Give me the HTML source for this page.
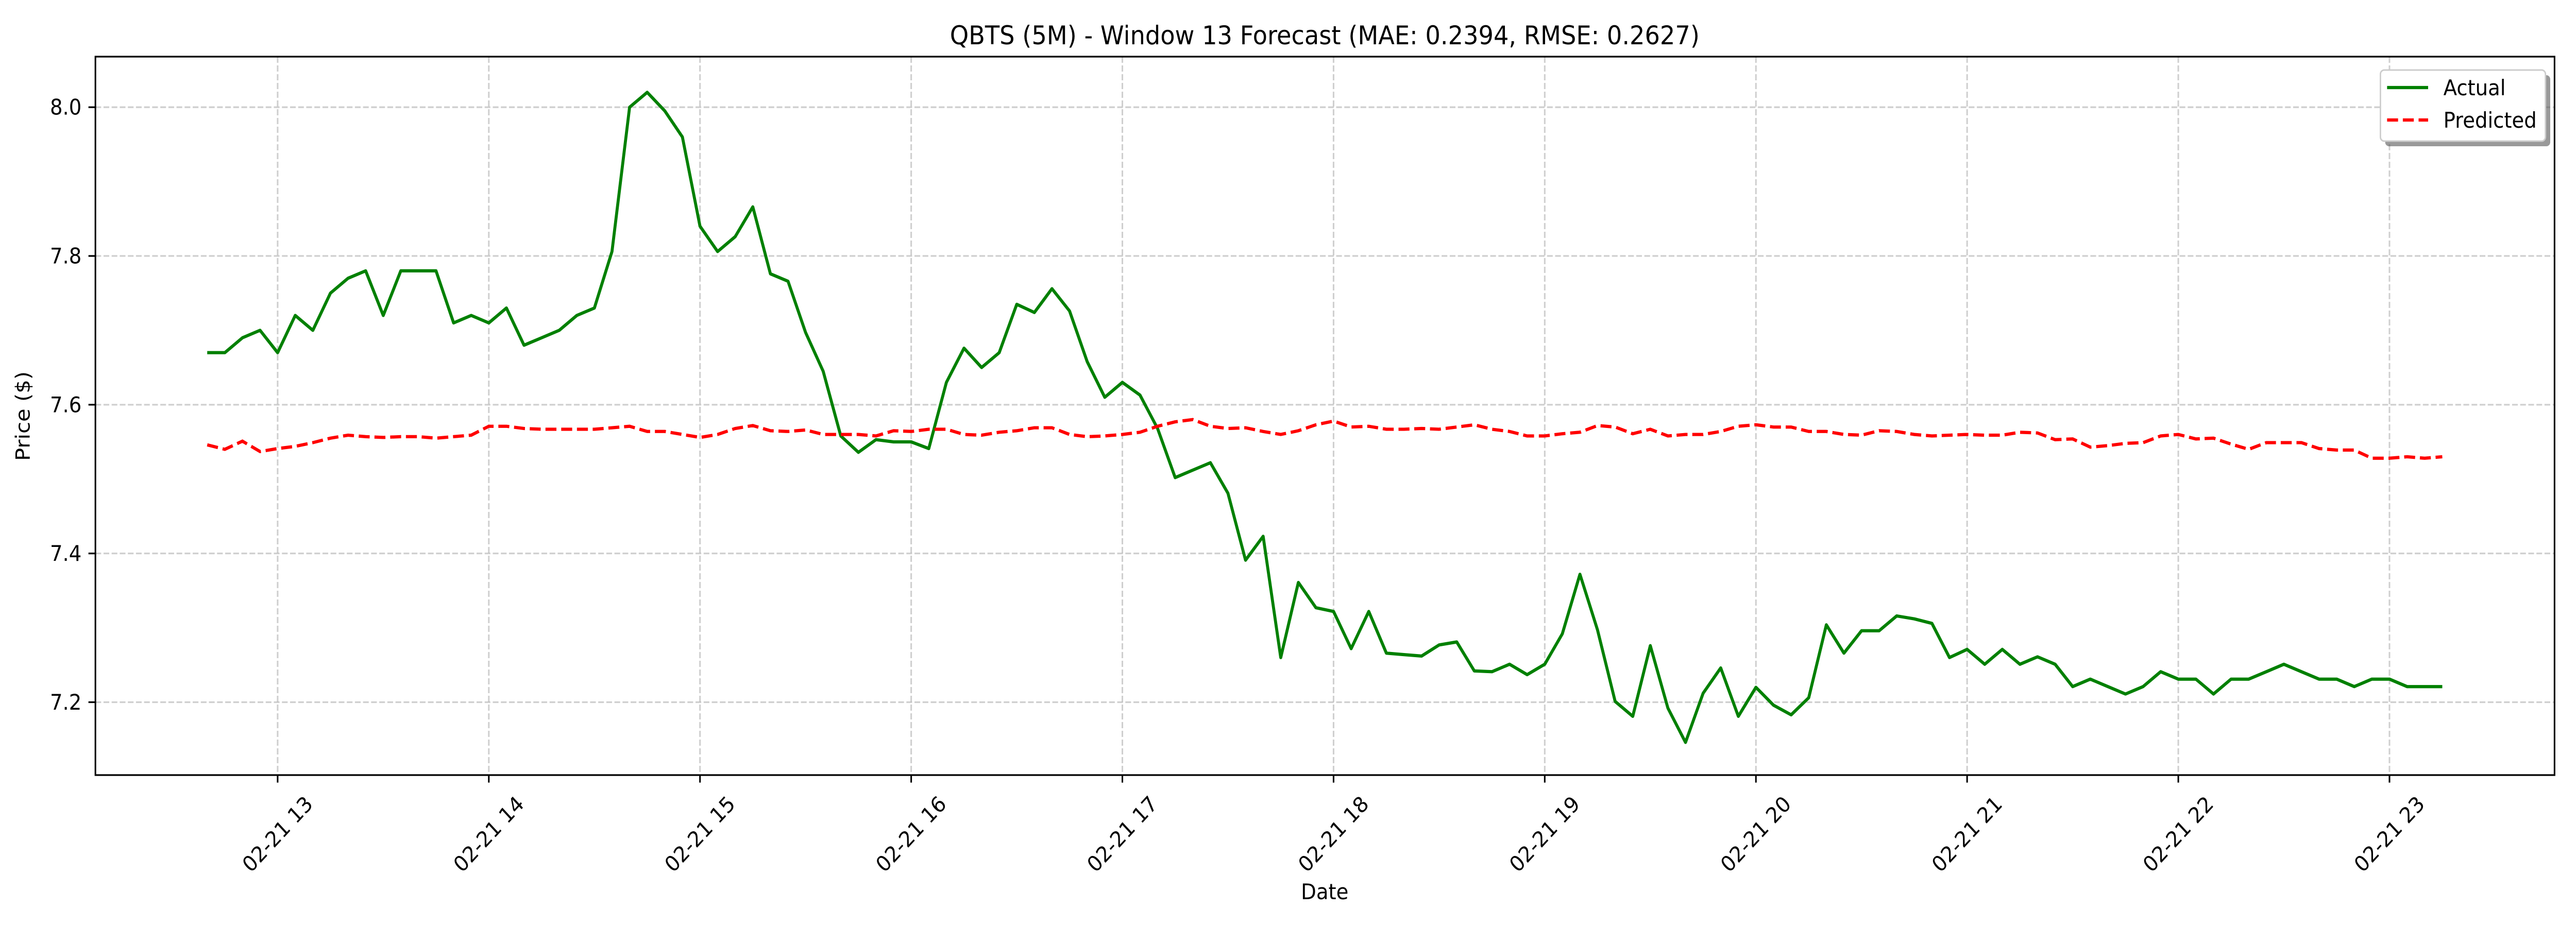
<!DOCTYPE html>
<html><head><meta charset="utf-8"><style>
html,body{margin:0;padding:0;background:#fff;overflow:hidden;width:100%;height:100%}
svg{display:block;width:100vw;height:100vh;font-family:"DejaVu Sans","Liberation Sans",sans-serif}
</style></head><body>
<svg id="chart" viewBox="0 0 5400 1800" preserveAspectRatio="none" xmlns="http://www.w3.org/2000/svg">
<rect x="0" y="0" width="5400" height="1800" fill="#fff"/>
<text x="2777" y="86" font-size="50" text-anchor="middle">QBTS (5M) - Window 13 Forecast (MAE: 0.2394, RMSE: 0.2627)</text>
<g id="grid"></g><g id="axes"></g><g id="series"></g>
<rect x="200" y="110" width="5155" height="1395" fill="none" stroke="#000" stroke-width="3.3"/>
<text x="0" y="0" font-size="41.7" text-anchor="middle" transform="translate(62,808) rotate(-90)">Price ($)</text>
<text x="2777" y="1746" font-size="41.7" text-anchor="middle">Date</text>
<g>
<rect x="5000" y="146" width="346" height="138" rx="8" fill="#555" opacity="0.6"/>
<rect x="4990" y="136" width="346" height="138" rx="8" fill="#fff" stroke="#ccc" stroke-width="3"/>
<line x1="5004" y1="170" x2="5090" y2="170" stroke="#008000" stroke-width="6.25"/>
<text x="5122" y="185" font-size="41.7">Actual</text>
<line x1="5004" y1="233" x2="5090" y2="233" stroke="#ff0000" stroke-width="6.25" stroke-dasharray="23,10"/>
<text x="5122" y="248" font-size="41.7">Predicted</text>
</g>
</svg>
<script>
const startMinutes = -20; // 12:40 relative to 13:00
const stepMinutes = 5;
const actualValues = [7.67,7.67,7.69,7.70,7.67,7.72,7.70,7.75,7.77,7.78,7.72,7.78,7.78,7.78,7.71,7.72,7.71,7.73,7.68,7.69,7.70,7.72,7.73,7.806,8.00,8.02,7.995,7.96,7.84,7.806,7.826,7.866,7.776,7.766,7.697,7.645,7.558,7.536,7.553,7.55,7.55,7.541,7.63,7.676,7.65,7.67,7.735,7.724,7.756,7.726,7.658,7.61,7.63,7.613,7.568,7.502,7.512,7.522,7.481,7.391,7.423,7.26,7.361,7.327,7.322,7.272,7.322,7.266,7.264,7.262,7.277,7.281,7.242,7.241,7.251,7.237,7.251,7.292,7.372,7.297,7.201,7.181,7.276,7.192,7.146,7.212,7.246,7.181,7.22,7.196,7.183,7.206,7.304,7.266,7.296,7.296,7.316,7.312,7.306,7.26,7.271,7.251,7.271,7.251,7.261,7.251,7.221,7.231,7.221,7.211,7.221,7.241,7.231,7.231,7.211,7.231,7.231,7.241,7.251,7.241,7.231,7.231,7.221,7.231,7.231,7.221,7.221,7.221];
const predictedValues = [7.546,7.54,7.551,7.537,7.541,7.544,7.549,7.555,7.559,7.557,7.556,7.557,7.557,7.555,7.557,7.559,7.571,7.571,7.568,7.567,7.567,7.567,7.567,7.569,7.571,7.564,7.564,7.56,7.556,7.56,7.568,7.572,7.565,7.564,7.566,7.56,7.56,7.56,7.558,7.565,7.564,7.567,7.567,7.56,7.559,7.563,7.565,7.569,7.569,7.56,7.557,7.558,7.56,7.563,7.571,7.577,7.58,7.571,7.568,7.569,7.564,7.56,7.565,7.573,7.578,7.57,7.571,7.567,7.567,7.568,7.567,7.57,7.573,7.567,7.564,7.558,7.558,7.561,7.563,7.572,7.57,7.561,7.567,7.558,7.56,7.56,7.564,7.571,7.573,7.57,7.57,7.564,7.564,7.56,7.559,7.565,7.564,7.56,7.558,7.559,7.56,7.559,7.559,7.563,7.562,7.553,7.554,7.543,7.545,7.548,7.549,7.558,7.56,7.554,7.555,7.547,7.54,7.549,7.549,7.549,7.541,7.539,7.539,7.528,7.528,7.53,7.528,7.53];
const yTicks = [7.2,7.4,7.6,7.8,8.0];
const yTickLabels = ["7.2","7.4","7.6","7.8","8.0"];
const xTickHours = [0,1,2,3,4,5,6,7,8,9,10];
const xTickLabels = ["02-21 13","02-21 14","02-21 15","02-21 16","02-21 17","02-21 18","02-21 19","02-21 20","02-21 21","02-21 22","02-21 23"];

const NS="http://www.w3.org/2000/svg";
const L=200,R=5355,T=110,B=1505;
const yMin=7.102,yMax=8.068;
const x0=582,pxPerHour=442.7;
function xScale(h){return x0+h*pxPerHour;}
function yScale(v){return B-(v-yMin)/(yMax-yMin)*(B-T);}
function mk(tag,attrs,parent){const e=document.createElementNS(NS,tag);for(const k in attrs)e.setAttribute(k,attrs[k]);parent.appendChild(e);return e;}
const grid=document.getElementById('grid'),axes=document.getElementById('axes'),series=document.getElementById('series');

yTicks.forEach((v,i)=>{
  const y=yScale(v);
  const g=mk('line',{x1:L,x2:R,y1:y,y2:y,stroke:'#b0b0b0','stroke-width':3.3,'stroke-dasharray':'12,5',opacity:0.6},grid);
  
  
  const t=mk('line',{x1:L-14.6,x2:L,y1:y,y2:y,stroke:'#000','stroke-width':3.3},axes);
  
  
  const tx=mk('text',{x:L-29,y:y+14.5,'font-size':41.7,'text-anchor':'end'},axes);
  tx.textContent=yTickLabels[i];
  
  
});
xTickHours.forEach((h,i)=>{
  const x=xScale(h);
  const g=mk('line',{x1:x,x2:x,y1:T,y2:B,stroke:'#b0b0b0','stroke-width':3.3,'stroke-dasharray':'12,5',opacity:0.6},grid);
  
  
  const t=mk('line',{x1:x,x2:x,y1:B,y2:B+14.6,stroke:'#000','stroke-width':3.3},axes);
  
  
  const tx=mk('text',{x:0,y:14,'font-size':41.7,'text-anchor':'middle',transform:`translate(${x},1620) rotate(-45)`},axes);
  tx.textContent=xTickLabels[i];
  
  
});
function pts(arr){return arr.map((v,i)=>xScale((startMinutes+i*stepMinutes)/60).toFixed(1)+','+yScale(v).toFixed(1)).join(' ');}
const a=mk('polyline',{points:pts(actualValues),fill:'none',stroke:'#008000','stroke-width':6.25,'stroke-linejoin':'round'},series);


const p=mk('polyline',{points:pts(predictedValues),fill:'none',stroke:'#ff0000','stroke-width':6.25,'stroke-dasharray':'23,10'},series);


</script>
</body></html>
